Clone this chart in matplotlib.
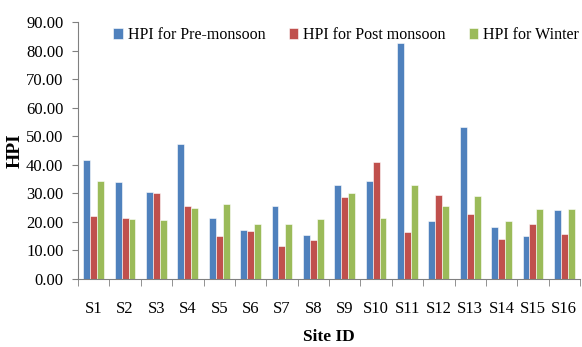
import matplotlib
matplotlib.use("Agg")
import matplotlib.pyplot as plt
import numpy as np

sites = ["S1","S2","S3","S4","S5","S6","S7","S8","S9","S10","S11","S12","S13","S14","S15","S16"]
pre_monsoon = [41.7, 34.1, 30.4, 47.4, 21.4, 17.2, 25.5, 15.4, 32.9, 34.3, 82.7, 20.2, 53.1, 18.1, 15.0, 24.1]
post_monsoon = [22.0, 21.3, 30.2, 25.6, 14.9, 16.9, 11.4, 13.6, 28.7, 41.1, 16.3, 29.4, 22.6, 13.9, 19.3, 15.8]
winter = [34.3, 21.0, 20.7, 24.7, 26.1, 19.3, 19.3, 21.0, 30.2, 21.4, 32.9, 25.6, 29.1, 20.2, 24.5, 24.5]
series_labels = ["HPI for Pre-monsoon", "HPI for Post monsoon", "HPI for Winter"]
colors = ["#4F81BD", "#C0504D", "#9BBB59"]
yticks = [0, 10, 20, 30, 40, 50, 60, 70, 80, 90]

plt.rcParams['font.family'] = ['Liberation Serif', 'DejaVu Serif']

fig = plt.figure(figsize=(5.82, 3.47), dpi=100)
ax = fig.add_axes([78/582, 1-279/347, 502/582, 257/347])

x = np.arange(len(sites))
w = 0.22
for i, (vals, lab, c) in enumerate(zip([pre_monsoon, post_monsoon, winter], series_labels, colors)):
    ax.bar(x + (i-1)*w, vals, width=w, color=c, label=lab, edgecolor="white", linewidth=0.4)

ax.set_xlim(-0.5, len(sites)-0.5)
ax.set_ylim(0, 90)
ax.set_yticks(yticks)
ax.set_yticklabels([f"{v:.2f}" for v in yticks], fontsize=12)
ax.set_xticks(x)
ax.set_xticklabels(sites, fontsize=12)
ax.tick_params(axis='x', length=0, pad=16)
ax.set_xticks(np.arange(-0.5, len(sites)), minor=True)
ax.tick_params(axis='x', which='minor', length=5, direction='out', color='#808080')
ax.tick_params(axis='y', length=4.5, direction='out', color='#808080', pad=6)
for s in ['top', 'right']:
    ax.spines[s].set_visible(False)
for s in ['left', 'bottom']:
    ax.spines[s].set_color('#808080')
    ax.spines[s].set_linewidth(0.8)

ax.set_ylabel("HPI", fontsize=14, fontweight='bold', labelpad=0)
ax.yaxis.set_label_coords(-54/502, 0.5)
ax.set_xlabel("Site ID", fontsize=12.5, fontweight='bold')
ax.xaxis.set_label_coords(0.5, -(329-279)/257)

ax.legend(loc='upper left', bbox_to_anchor=(29/502, 1.005), ncol=3, frameon=False,
          fontsize=11.5, handlelength=0.6, handleheight=0.6, handletextpad=0.3,
          columnspacing=1.45, borderaxespad=0)

fig.savefig("out.png", dpi=100)
